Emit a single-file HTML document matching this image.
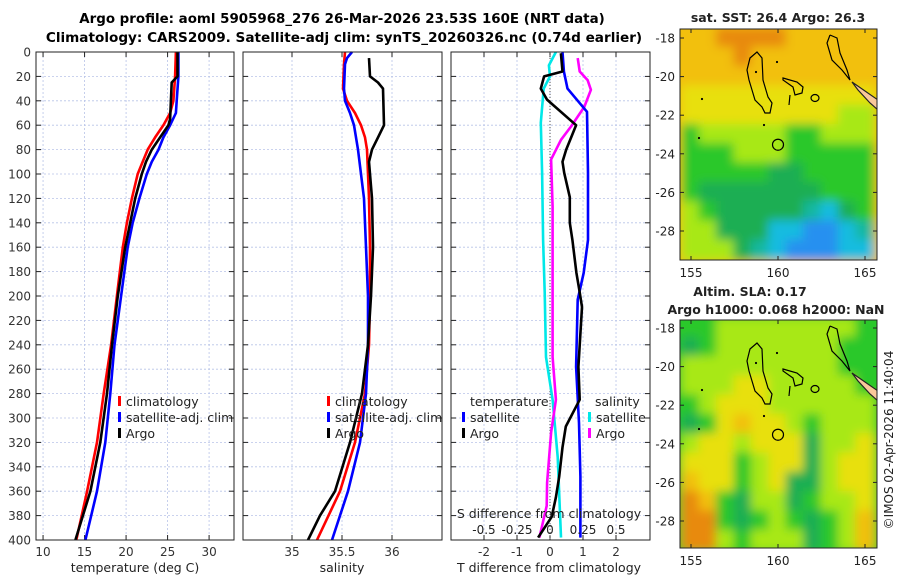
<!DOCTYPE html>
<html><head><meta charset="utf-8"><style>
body{margin:0;background:#fff;width:900px;height:580px;overflow:hidden}
svg{font-family:"DejaVu Sans","Liberation Sans",sans-serif;}
</style></head><body>
<svg id="fig" width="900" height="580" viewBox="0 0 900 580">
<defs>
<filter id="blur1" x="0" y="0" width="1" height="1"><feGaussianBlur stdDeviation="5"/></filter>
<clipPath id="clipm1"><rect x="680" y="29" width="197" height="231"/></clipPath>
<clipPath id="clipm2"><rect x="680" y="320" width="197" height="228"/></clipPath>
</defs>
<text x="342" y="23" text-anchor="middle" font-size="13.4" font-weight="bold">Argo profile: aoml 5905968_276 26-Mar-2026 23.53S 160E (NRT data)</text>
<text x="344" y="42" text-anchor="middle" font-size="13.6" font-weight="bold">Climatology: CARS2009. Satellite-adj clim: synTS_20260326.nc (0.74d earlier)</text>
<g id="g"></g>
</svg>
<script>
// ---------- data ----------
const depthTicks=[0,20,40,60,80,100,120,140,160,180,200,220,240,260,280,300,320,340,360,380,400];
const tTicks=[10,15,20,25,30];
const sTicks=[35,35.5,36];
const dTicks=[-2,-1,0,1,2];
const sdTicks=[-0.5,-0.25,0,0.25,0.5];
const tClimDepth=[0,20,40,50,60,70,80,90,100,120,140,160,200,240,280,320,360,400];
const tClim=[26.0,25.9,25.7,25.3,24.5,23.5,22.6,22.0,21.4,20.7,20.1,19.6,18.9,18.2,17.3,16.5,15.3,14.0];
const tSat=[26.3,26.3,26.1,26.0,25.3,24.5,23.9,23.1,22.5,21.6,20.8,20.2,19.4,18.6,18.1,17.5,16.5,15.1];
const tArgoDepth=[0,20,25,40,55,60,70,80,90,100,120,140,160,200,240,280,320,360,400];
const tArgo=[26.2,26.2,25.5,25.4,25.3,25.1,24.1,23.1,22.4,21.9,21.1,20.5,19.9,19.0,18.3,17.7,16.9,15.7,13.9];
const sClimDepth=[0,10,30,40,50,60,70,80,100,120,160,200,240,280,320,360,400];
const sClim=[35.53,35.52,35.51,35.55,35.63,35.69,35.73,35.75,35.76,35.77,35.78,35.78,35.77,35.73,35.63,35.48,35.25];
const sSatDepth=[0,5,10,30,40,50,60,80,100,120,160,200,240,280,320,360,400];
const sSat=[35.60,35.55,35.53,35.52,35.53,35.58,35.62,35.66,35.69,35.72,35.74,35.76,35.76,35.74,35.68,35.56,35.40];
const sArgoDepth=[5,20,25,30,60,70,80,90,100,120,160,200,240,280,320,360,380,400];
const sArgo=[35.77,35.78,35.86,35.91,35.92,35.86,35.80,35.77,35.78,35.80,35.81,35.79,35.76,35.70,35.58,35.43,35.28,35.16];
const dTSatDepth=[0,16,30,49,99,154,181,203,258,304,348,398];
const dTSat=[0.38,0.42,0.53,1.12,1.15,1.15,1.02,0.84,0.79,0.88,0.92,0.92];
const dTArgoDepth=[1,16,20,30,39,60,80,90,99,119,140,154,181,197,209,258,285,307,324,348,365,381,398];
const dTArgo=[0.33,0.38,-0.18,-0.28,-0.09,0.79,0.49,0.38,0.43,0.6,0.6,0.68,0.8,0.9,0.97,0.86,0.9,0.48,0.38,0.28,0.18,0.05,-0.36];
const dSSatDepth=[0,11,20,30,58,99,154,197,250,285,332,398];
const dSSat=[0.045,-0.008,0.0,-0.048,-0.07,-0.06,-0.052,-0.04,-0.03,0.02,0.058,0.083];
const dSArgoDepth=[5,16,23,31,45,61,72,88,127,181,250,285,312,353,372,398];
const dSArgo=[0.21,0.225,0.285,0.31,0.26,0.16,0.083,0.008,0.02,0.02,0.02,0.045,0.008,-0.022,-0.025,-0.08];
// ---------- helpers ----------
const NS="http://www.w3.org/2000/svg";
const G=document.getElementById('g');
function el(tag,attrs,parent){const e=document.createElementNS(NS,tag);for(const k in attrs)e.setAttribute(k,attrs[k]);(parent||G).appendChild(e);return e;}
const Y0=52,Y1=540;
const yD=d=>Y0+(d/400)*(Y1-Y0);
const panels=[
 {x0:36,x1:234,min:9.15,max:33,ticks:tTicks,name:'temperature-panel'},
 {x0:243,x1:442,min:34.51,max:36.5,ticks:sTicks,name:'salinity-panel'},
 {x0:451,x1:650,min:-3,max:3.03,ticks:dTicks,name:'difference-panel'}];
panels.forEach(p=>{p.sx=v=>p.x0+(v-p.min)/(p.max-p.min)*(p.x1-p.x0);});
const sdx=v=>panels[2].sx(v*4);
panels.forEach((p,i)=>{
  const g=el('g',{});
  
  
  depthTicks.forEach(d=>{const y=yD(d);
    const l=el('line',{x1:p.x0,x2:p.x1,y1:y,y2:y,stroke:'#b8c4e8','stroke-width':0.8,'stroke-dasharray':'2,2'},g);
    
    el('line',{x1:p.x0,x2:p.x0+5,y1:y,y2:y,stroke:'#222'},g);
    el('line',{x1:p.x1-5,x2:p.x1,y1:y,y2:y,stroke:'#222'},g);
  });
  p.ticks.forEach(t=>{const x=p.sx(t);
    const l=el('line',{x1:x,x2:x,y1:Y0,y2:Y1,stroke:'#b8c4e8','stroke-width':0.8,'stroke-dasharray':'2,2'},g);
    
    el('line',{x1:x,x2:x,y1:Y1-5,y2:Y1,stroke:'#222'},g);
    el('line',{x1:x,x2:x,y1:Y0,y2:Y0+5,stroke:'#222'},g);
    const tx=el('text',{x:x,y:556,'text-anchor':'middle','font-size':12,fill:'#333'},g);tx.textContent=t;
    
  });
  if(i===0){depthTicks.forEach(d=>{const tx=el('text',{x:31,y:yD(d)+4.5,'text-anchor':'end','font-size':12,fill:'#333'},g);tx.textContent=d;
    });}
});
function line(xs,ds,sx,color,name){
  const pts=xs.map((v,i)=>sx(v).toFixed(1)+','+yD(ds[i]).toFixed(1)).join(' ');
  const l=el('polyline',{points:pts,fill:'none',stroke:color,'stroke-width':2.6,'stroke-linejoin':'round'});
  
}
const z=el('line',{x1:panels[2].sx(0),x2:panels[2].sx(0),y1:Y0,y2:Y1,stroke:'#555','stroke-width':1,'stroke-dasharray':'1,2'});

line(tClim,tClimDepth,panels[0].sx,'#ff0000','temp-climatology-line');
line(tSat,tClimDepth,panels[0].sx,'#0000ff','temp-satellite-line');
line(tArgo,tArgoDepth,panels[0].sx,'#000','temp-argo-line');
line(sClim,sClimDepth,panels[1].sx,'#ff0000','sal-climatology-line');
line(sSat,sSatDepth,panels[1].sx,'#0000ff','sal-satellite-line');
line(sArgo,sArgoDepth,panels[1].sx,'#000','sal-argo-line');
line(dSSat,dSSatDepth,sdx,'#00e8e8','sdiff-satellite-line');
line(dSArgo,dSArgoDepth,sdx,'#ff00ff','sdiff-argo-line');
line(dTSat,dTSatDepth,panels[2].sx,'#0000ff','tdiff-satellite-line');
line(dTArgo,dTArgoDepth,panels[2].sx,'#000','tdiff-argo-line');
panels.forEach(p=>{const r=el('rect',{x:p.x0,y:Y0,width:p.x1-p.x0,height:Y1-Y0,fill:'none',stroke:'#222','stroke-width':1});
 });
function txt(x,y,s,size,name,anchor,extra){const t=el('text',Object.assign({x:x,y:y,'font-size':size,'text-anchor':anchor||'middle',fill:'#222'},extra||{}));t.textContent=s;
 return t;}
txt(135,572,'temperature (deg C)',12.5,'x-axis-title-temperature');
txt(342,572,'salinity',12.5,'x-axis-title-salinity');
txt(549,572,'T difference from climatology',12.5,'x-axis-title-tdiff');
txt(549,518,'S difference from climatology',12.5,'s-axis-title');
sdTicks.forEach(t=>{txt(sdx(t),534,String(t),12,'s-tick-label');});
function leg(x,y,color,label,name){
  const r=el('rect',{x:x,y:y-10,width:3,height:10,fill:color});
  
  txt(x+8,y,label,12.5,name,'start');
}
leg(118,406,'#ff0000','climatology','legend-climatology');
leg(118,422,'#0000ff','satellite-adj. clim','legend-satellite');
leg(118,438,'#000','Argo','legend-argo');
leg(327,406,'#ff0000','climatology','legend2-climatology');
leg(327,422,'#0000ff','satellite-adj. clim','legend2-satellite');
leg(327,438,'#000','Argo','legend2-argo');
txt(470,406,'temperature',12.5,'legend-temperature-title','start');
leg(462,422,'#0000ff','satellite','legend-t-satellite');
leg(462,438,'#000','Argo','legend-t-argo');
txt(595,406,'salinity',12.5,'legend-salinity-title','start');
leg(588,422,'#00e8e8','satellite','legend-s-satellite');
leg(588,438,'#ff00ff','Argo','legend-s-argo');
// ---------- maps ----------
const C={O:'#e88a10',Y:'#f2c00c',y:'#e8e010',L:'#a8e814',G:'#2cc82c',g:'#1eae52',T:'#14b8a0',C:'#18bce0',B:'#2890f0'};
const sstRows=["YYOOOOYYYYY","YYYOYYYYYYY","YYYYYYYYYYY","yyyyyyyyyyy","yyyyyyyyyLL","GLLLLLGGLLL","GGGLLLGGGGG","GGGGGggGGGG","GgggggggGGG","LGgggggTCgG","LLgggCCBBCT","LLLgTCBBBCC"];
const slaRows=["GGLLLLLLLLG","gGLLLLLLLGG","LLLLLLLLLGG","LLLyyLLLLLG","GLyyyLLLLLL","gGyYyyLGLLL","LyyLyyygLLy","yyyGLyygLyy","YyyGLyggLyy","OYGgLLgGLLy","OOGgGLGgGLY","OOLGLLLgGLY"];
const lonTicks=[155,160,165], latTicks=[-18,-20,-22,-24,-26,-28];
const argoLon=160, argoLat=-23.53;
const maps=[{top:29,h:231,lat18:38,rows:sstRows,clip:'clipm1',name:'sst-map'},{top:320,h:228,lat18:328,rows:slaRows,clip:'clipm2',name:'sla-map'}];
const mx=lon=>691+(lon-155)*17.4;
maps.forEach(m=>{
  const my=lat=>m.lat18+(-18-lat)*19.3;
  const g=el('g',{'clip-path':'url(#'+m.clip+')'});
  
  const f=el('g',{filter:'url(#blur1)'},g);
  el('rect',{x:670,y:m.top-10,width:220,height:m.h+20,fill:C[m.rows[0][0]]},f);
  m.rows.forEach((row,ri)=>{for(let ci=0;ci<row.length;ci++){
    const lon=154.5+ci, lat=-17.5-ri;
    el('rect',{x:mx(lon)-1,y:my(lat)-1,width:17.4+2,height:19.3+2,fill:C[row[ci]]},f);
  }});
  const tr=el('g',{transform:'translate(680,'+m.top+')',fill:'none',stroke:'#000','stroke-width':1.2},g);
  el('polygon',{points:'70,29 77,23 82,29 83,51 88,68 92,74 90,84 85,84 82,78 75,71 72,61 69,51 67,41'},tr);
  el('polygon',{points:'103,49 117,53 123,58 122,64 115,66 113,58 103,51'},tr);
  el('ellipse',{cx:135,cy:69,rx:4,ry:3.5},tr);
  el('line',{x1:110,y1:66,x2:109,y2:76},tr);
  el('polyline',{points:'150,6 157,9 160,24 167,41 170,51 162,41 152,31 147,14 150,6'},tr);
  el('polygon',{points:'172,53 198,71 198,81 190,74 178,61',fill:'#f9c89a',stroke:'#222'},tr);
  [[22,70],[19,109],[84,96],[97,33],[76,43]].forEach(p=>el('circle',{cx:p[0],cy:p[1],r:1.1,fill:'#000',stroke:'none'},tr));
  const c=el('circle',{cx:mx(argoLon),cy:my(argoLat),r:5.5,fill:'none',stroke:'#000','stroke-width':1.2},g);
  
  const fr=el('rect',{x:680,y:m.top,width:197,height:m.h,fill:'none',stroke:'#222'});
  
  lonTicks.forEach(l=>{const x=mx(l);el('line',{x1:x,x2:x,y1:m.top+m.h-4,y2:m.top+m.h,stroke:'#222'});el('line',{x1:x,x2:x,y1:m.top,y2:m.top+4,stroke:'#222'});
    txt(x,m.top+m.h+17,String(l),12,'lon-tick-label');});
  latTicks.forEach(l=>{const y=my(l);el('line',{x1:680,x2:684,y1:y,y2:y,stroke:'#222'});el('line',{x1:873,x2:877,y1:y,y2:y,stroke:'#222'});
    txt(675,y+4.5,String(l),12,'lat-tick-label','end');});
});
txt(778,22,'sat. SST: 26.4 Argo: 26.3',12.5,'sst-map-title','middle',{'font-weight':'bold'});
txt(750,296,'Altim. SLA: 0.17',12.5,'sla-map-title','middle',{'font-weight':'bold'});
txt(776,314,'Argo h1000: 0.068 h2000: NaN',12.5,'sla-map-subtitle','middle',{'font-weight':'bold'});
txt(0,0,'©IMOS 02-Apr-2026 11:40:04',12,'copyright-stamp','middle',{transform:'translate(893,440) rotate(-90)'});
</script>
</body></html>
